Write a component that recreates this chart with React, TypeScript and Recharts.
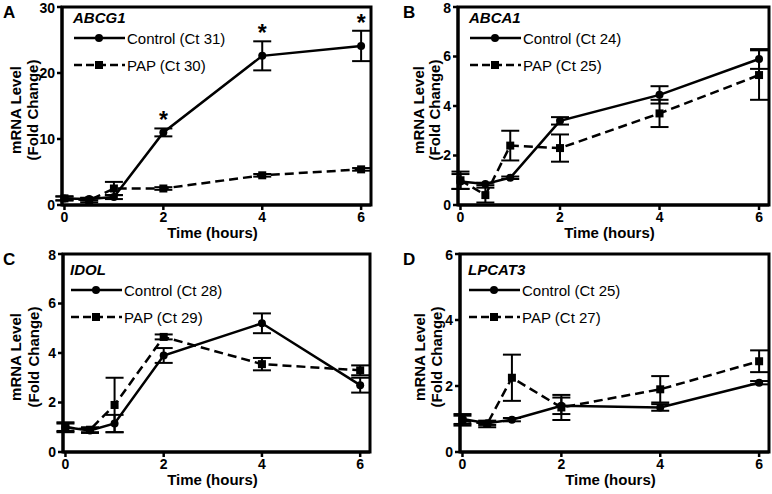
import { ErrorBar, LabelList, Legend, Line, LineChart, ReferenceArea, XAxis, YAxis } from "recharts"

const times = [0, 0.5, 1, 2, 4, 6]
const timeTicks = [0, 2, 4, 6]

// ABCG1
const abcg1Ctrl = [1.0, 0.9, 1.2, 11.0, 22.6, 24.1]
const abcg1CtrlErr = [0.3, 0.2, 0.3, 0.6, 2.2, 2.3]
const abcg1Pap = [1.0, 0.7, 2.5, 2.5, 4.5, 5.4]
const abcg1PapErr = [0.3, 0.3, 1.0, 0.2, 0.2, 0.2]
const abcg1Sig = [false, false, false, true, true, true]

// ABCA1
const abca1Ctrl = [0.95, 0.85, 1.1, 3.4, 4.45, 5.9]
const abca1CtrlErr = [0.3, 0.05, 0.05, 0.15, 0.35, 0.4]
const abca1Pap = [1.0, 0.4, 2.4, 2.3, 3.7, 5.25]
const abca1PapErr = [0.35, 0.3, 0.6, 0.55, 0.55, 1.0]

// IDOL
const idolCtrl = [1.0, 0.87, 1.15, 3.9, 5.2, 2.7]
const idolCtrlErr = [0.15, 0.1, 0.35, 0.3, 0.4, 0.3]
const idolPap = [1.0, 0.9, 1.9, 4.65, 3.55, 3.3]
const idolPapErr = [0.2, 0.1, 1.1, 0.1, 0.25, 0.2]

// LPCAT3
const lpcat3Ctrl = [1.0, 0.87, 0.98, 1.4, 1.35, 2.1]
const lpcat3CtrlErr = [0.15, 0.05, 0.05, 0.25, 0.1, 0.05]
const lpcat3Pap = [0.95, 0.85, 2.25, 1.35, 1.9, 2.75]
const lpcat3PapErr = [0.15, 0.1, 0.7, 0.38, 0.4, 0.33]

const FONT = "'Liberation Sans', Arial, Helvetica, sans-serif"

function buildRows(ctrl: number[], ctrlErr: number[], pap: number[], papErr: number[], sig?: boolean[]) {
  return times.map((t, i) => ({
    t,
    ctrl: ctrl[i],
    ctrlErr: ctrlErr[i],
    pap: pap[i],
    papErr: papErr[i],
    star: sig && sig[i] ? ctrl[i] + ctrlErr[i] : null,
  }))
}

const SquareDot = (props: any) => {
  const { cx, cy, index } = props
  if (cx == null || cy == null) return <g key={index} />
  return <rect key={index} x={cx - 4} y={cy - 4} width={8} height={8} fill="#000" />
}

function YLabel({ viewBox, lx }: any) {
  const { y, width, height, x } = viewBox
  const cy = y + height / 2 + 4
  const right = x + width
  return (
    <g>
      {["mRNA Level", "(Fold Change)"].map((s, i) => (
        <text
          key={s}
          x={right - lx[i]}
          y={cy}
          transform={`rotate(-90 ${right - lx[i]} ${cy})`}
          textAnchor="middle"
          dominantBaseline="central"
          fontSize={15}
          fontWeight="bold"
          fontFamily={FONT}
          fill="#000"
        >
          {s}
        </text>
      ))}
    </g>
  )
}

function XLabel({ viewBox }: any) {
  const { x, y, width } = viewBox
  return (
    <text x={x + width / 2 - 4} y={y + 33} textAnchor="middle" fontSize={15} fontWeight="bold" fontFamily={FONT} fill="#000">
      Time (hours)
    </text>
  )
}

function LegendBox({ gene, labels }: { gene: string; labels: string[] }) {
  return (
    <svg width={200} height={70} style={{ overflow: "visible", display: "block" }}>
      <text x={0} y={16} fontSize={15} fontWeight="bold" fontStyle="italic" fontFamily={FONT} fill="#000">
        {gene}
      </text>
      <line x1={1} x2={52} y1={31} y2={31} stroke="#000" strokeWidth={2.5} />
      <circle cx={26} cy={31} r={4} fill="#000" />
      <text x={54} y={36.5} fontSize={15} fontFamily={FONT} fill="#000">
        {labels[0]}
      </text>
      <line x1={1} x2={52} y1={58} y2={58} stroke="#000" strokeWidth={2.5} strokeDasharray="8 4" />
      <rect x={22} y={54} width={8} height={8} fill="#000" />
      <text x={54} y={63.5} fontSize={15} fontFamily={FONT} fill="#000">
        {labels[1]}
      </text>
    </svg>
  )
}

const Star = (props: any) => {
  const { x, y, value } = props
  if (value == null || y == null) return null
  return (
    <text x={x} y={y} textAnchor="middle" fontSize={23} fontWeight="bold" fontFamily={FONT} fill="#000">
      *
    </text>
  )
}

type PanelProps = {
  letter: string
  gene: string
  labels: string[]
  rows: ReturnType<typeof buildRows>
  yMax: number
  yTicks: number[]
  left: number
  right: number
  legendPos: { left: number; top: number }
  lx: number[]
  pos: { left: number; top: number }
  showStars?: boolean
}

function Panel(p: PanelProps) {
  const W = 386
  const H = 247
  return (
    <div style={{ position: "absolute", left: p.pos.left, top: p.pos.top, width: W, height: H }}>
      <div style={{ position: "absolute", left: p.pos.left === 0 ? 3 : 17, top: 3, fontSize: 17, fontWeight: "bold", fontFamily: FONT, zIndex: 2 }}>
        {p.letter}
      </div>
      <LineChart width={W} height={H} data={p.rows} margin={{ top: 7, right: W - p.right, bottom: 0, left: 0 }}>
        <ReferenceArea x1={-0.05} x2={6.2} y1={0} y2={p.yMax} fill="none" stroke="#000" strokeWidth={3} ifOverflow="visible" />
        <XAxis
          dataKey="t"
          type="number"
          domain={[-0.05, 6.2]}
          ticks={timeTicks}
          height={42}
          axisLine={{ stroke: "#000", strokeWidth: 3 }}
          tickLine={{ stroke: "#000", strokeWidth: 2.5 }}
          tickSize={5}
          tick={{ fill: "#000", fontSize: 14, fontWeight: "bold", fontFamily: FONT }}
          label={<XLabel />}
        />
        <YAxis
          type="number"
          domain={[0, p.yMax]}
          ticks={p.yTicks}
          width={p.left}
          axisLine={{ stroke: "#000", strokeWidth: 3 }}
          tickLine={{ stroke: "#000", strokeWidth: 2.5 }}
          tickSize={5}
          tick={{ fill: "#000", fontSize: 14, fontWeight: "bold", fontFamily: FONT }}
          label={<YLabel lx={p.lx} />}
        />
        <Legend
          layout="vertical"
          align="center"
          verticalAlign="middle"
          wrapperStyle={{ position: "absolute", left: p.legendPos.left, top: p.legendPos.top, width: 200 }}
          content={() => <LegendBox gene={p.gene} labels={p.labels} />}
        />
        <Line
          dataKey="pap"
          stroke="#000"
          strokeWidth={2.5}
          strokeDasharray="9 5"
          dot={SquareDot}
          activeDot={false}
          isAnimationActive={false}
        >
          <ErrorBar dataKey="papErr" width={9} stroke="#000" strokeWidth={2} direction="y" isAnimationActive={false} />
        </Line>
        <Line
          dataKey="ctrl"
          stroke="#000"
          strokeWidth={2.5}
          dot={{ r: 4, fill: "#000", stroke: "#000", strokeWidth: 0 }}
          activeDot={false}
          isAnimationActive={false}
        >
          <ErrorBar dataKey="ctrlErr" width={9} stroke="#000" strokeWidth={2} direction="y" isAnimationActive={false} />
        </Line>
        {p.showStars && (
          <Line dataKey="star" stroke="none" dot={false} activeDot={false} legendType="none" isAnimationActive={false}>
            <LabelList dataKey="star" content={Star} />
          </Line>
        )}
      </LineChart>
    </div>
  )
}

export default function App() {
  return (
    <div style={{ position: "absolute", left: 0, top: 0, width: 772, height: 494, background: "#fff", fontFamily: FONT }}>
      <Panel
        letter="A"
        gene="ABCG1"
        labels={["Control (Ct 31)", "PAP (Ct 30)"]}
        rows={buildRows(abcg1Ctrl, abcg1CtrlErr, abcg1Pap, abcg1PapErr, abcg1Sig)}
        yMax={30}
        yTicks={[0, 10, 20, 30]}
        left={62}
        right={371}
        legendPos={{ left: 73, top: 7 }}
        lx={[47, 30]}
        pos={{ left: 0, top: 0 }}
        showStars
      />
      <Panel
        letter="B"
        gene="ABCA1"
        labels={["Control (Ct 24)", "PAP (Ct 25)"]}
        rows={buildRows(abca1Ctrl, abca1CtrlErr, abca1Pap, abca1PapErr)}
        yMax={8}
        yTicks={[0, 2, 4, 6, 8]}
        left={72}
        right={383}
        legendPos={{ left: 83, top: 7 }}
        lx={[40, 24]}
        pos={{ left: 386, top: 0 }}
      />
      <Panel
        letter="C"
        gene="IDOL"
        labels={["Control (Ct 28)", "PAP (Ct 29)"]}
        rows={buildRows(idolCtrl, idolCtrlErr, idolPap, idolPapErr)}
        yMax={8}
        yTicks={[0, 2, 4, 6, 8]}
        left={63}
        right={370}
        legendPos={{ left: 70, top: 12 }}
        lx={[48, 30]}
        pos={{ left: 0, top: 247 }}
      />
      <Panel
        letter="D"
        gene="LPCAT3"
        labels={["Control (Ct 25)", "PAP (Ct 27)"]}
        rows={buildRows(lpcat3Ctrl, lpcat3CtrlErr, lpcat3Pap, lpcat3PapErr)}
        yMax={6}
        yTicks={[0, 2, 4, 6]}
        left={74}
        right={383}
        legendPos={{ left: 82, top: 12 }}
        lx={[41, 24]}
        pos={{ left: 386, top: 247 }}
      />
    </div>
  )
}
